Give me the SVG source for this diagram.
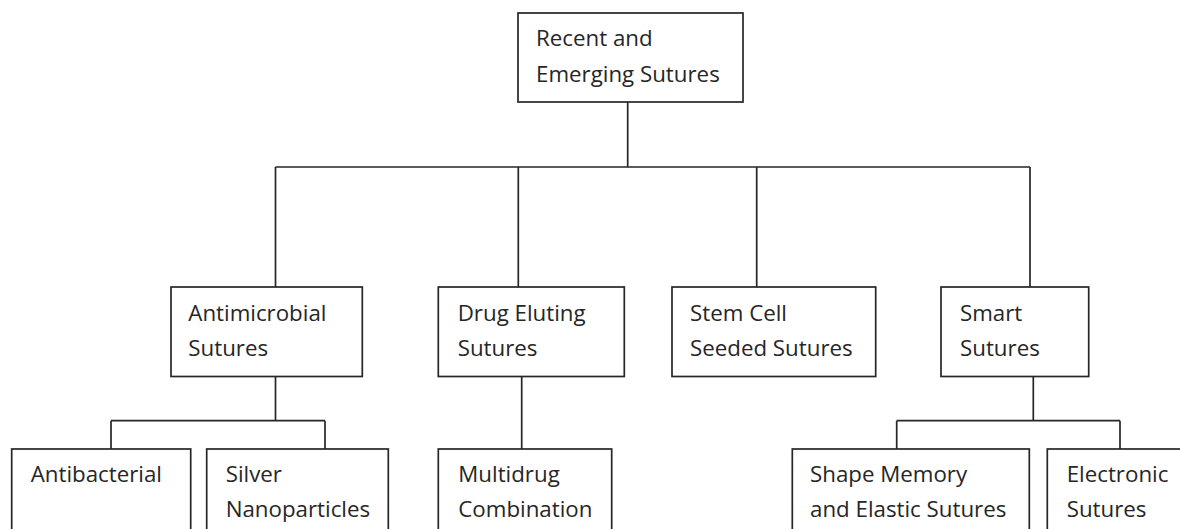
<svg xmlns="http://www.w3.org/2000/svg" width="1180" height="529" viewBox="0 0 1180 529">
<style>
.box{fill:#fff;stroke:#262626;stroke-width:1.7}
.t{font-family:"Open Sans","Noto Sans",sans-serif;font-size:22.3px;fill:#262626}
.c{fill:none;stroke:#262626;stroke-width:1.7}
</style>
<rect width="1180" height="529" fill="#fff"/>
<g id="connectors">
<path class="c" d="M627.7 102V167M275.5 167H1030M275.5 167V287M518.3 167V287M756.7 167V287M1030 167V287"/>
<path class="c" d="M275.5 376.5V420.7M111 420.7H325M111 420.7V449M325 420.7V449"/>
<path class="c" d="M521.7 376.5V449"/>
<path class="c" d="M1033.3 376.5V420.7M896.7 420.7H1120M896.7 420.7V449M1120 420.7V449"/>
</g>
<g id="root"><rect class="box" x="518" y="13" width="225" height="89"/><text class="t" x="536" y="46">Recent and</text><text class="t" x="536" y="81.7">Emerging Sutures</text></g>
<g id="antimicrobial"><rect class="box" x="171" y="287" width="191.3" height="89.5"/><text class="t" x="188.3" y="320.7">Antimicrobial</text><text class="t" x="188.3" y="356">Sutures</text></g>
<g id="drug-eluting"><rect class="box" x="438.3" y="287" width="186" height="89.5"/><text class="t" x="457.7" y="320.7">Drug Eluting</text><text class="t" x="457.7" y="356">Sutures</text></g>
<g id="stem-cell"><rect class="box" x="672" y="287" width="203.7" height="89.5"/><text class="t" x="690" y="320.7">Stem Cell</text><text class="t" x="690" y="356">Seeded Sutures</text></g>
<g id="smart"><rect class="box" x="941" y="287" width="147.7" height="89.5"/><text class="t" x="960" y="320.7">Smart</text><text class="t" x="960" y="356">Sutures</text></g>
<g id="antibacterial"><rect class="box" x="11.7" y="449" width="179" height="100"/><text class="t" x="30.7" y="481.7">Antibacterial</text></g>
<g id="silver"><rect class="box" x="206.7" y="449" width="181.6" height="100"/><text class="t" x="225.7" y="481.7">Silver</text><text class="t" x="225.7" y="516.7">Nanoparticles</text></g>
<g id="multidrug"><rect class="box" x="438.3" y="449" width="173.4" height="100"/><text class="t" x="458.3" y="481.7">Multidrug</text><text class="t" x="458.3" y="516.7">Combination</text></g>
<g id="shape-memory"><rect class="box" x="792.3" y="449" width="237" height="100"/><text class="t" x="810" y="481.7">Shape Memory</text><text class="t" x="810" y="516.7">and Elastic Sutures</text></g>
<g id="electronic"><rect class="box" x="1047.3" y="449" width="160" height="100"/><text class="t" x="1066.7" y="481.7">Electronic</text><text class="t" x="1066.7" y="516.7">Sutures</text></g>
</svg>
